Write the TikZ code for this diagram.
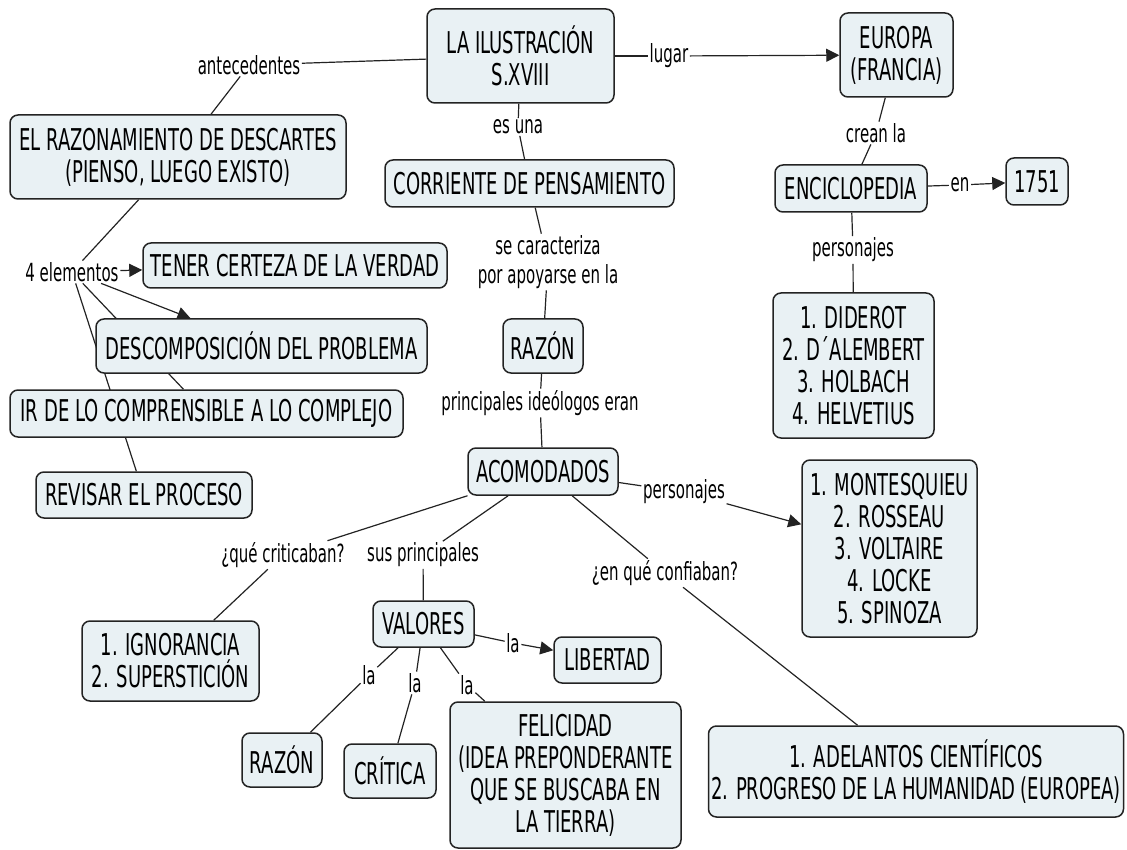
\documentclass[tikz,border=0pt]{standalone}
\usepackage{fontspec}
\setmainfont{DejaVu Sans}[FakeStretch=0.6]
\usepackage{tikz}
\usetikzlibrary{arrows.meta}
\usetikzlibrary{backgrounds}

\definecolor{relleno}{RGB}{233,241,244}
\definecolor{borde}{RGB}{35,35,35}

\tikzset{
  concepto/.style={draw=borde, line width=1.5pt, fill=relleno, rounded corners=8pt,
    align=center, inner sep=0pt, font=\fontsize{30}{32}\selectfont},
  enlace/.style={inner sep=1.5pt, align=center, font=\fontsize{25}{29}\selectfont},
  linea/.style={draw=borde, line width=1.2pt},
  flecha/.style={linea, -{Triangle[length=13pt,width=13pt]}},
}

\begin{document}
\begin{tikzpicture}[x=1pt,y=-1pt]
	\useasboundingbox (0,0) rectangle (1127,850);

	\node[concepto, minimum width=187pt, minimum height=94pt] (ilus) at (520.5,56) {LA ILUSTRACIÓN\\S.XVIII};
	\node[concepto, minimum width=336pt, minimum height=84pt] (razon) at (178,157) {EL RAZONAMIENTO DE DESCARTES\\(PIENSO, LUEGO EXISTO)};
	\node[concepto, minimum width=113pt, minimum height=84pt] (europa) at (896.5,55) {EUROPA\\(FRANCIA)};
	\node[concepto, minimum width=289pt, minimum height=47pt] (corriente) at (529.5,183.5) {CORRIENTE DE PENSAMIENTO};
	\node[concepto, minimum width=152pt, minimum height=47pt] (enciclo) at (851,188.5) {ENCICLOPEDIA};
	\node[concepto, minimum width=62pt, minimum height=47pt] (anio) at (1037,181.5) {1751};
	\node[concepto, minimum width=161pt, minimum height=145pt] (diderot) at (853.5,365.5) {1. DIDEROT\\2. D´ALEMBERT\\3. HOLBACH\\4. HELVETIUS};
	\node[concepto, minimum width=304pt, minimum height=45pt] (tener) at (295,265.5) {TENER CERTEZA DE LA VERDAD};
	\node[concepto, minimum width=331pt, minimum height=54pt] (descomp) at (261.5,346) {DESCOMPOSICIÓN DEL PROBLEMA};
	\node[concepto, minimum width=80pt, minimum height=54pt] (razonA) at (543,346) {RAZÓN};
	\node[concepto, minimum width=393pt, minimum height=47pt] (ir) at (206.5,413.5) {IR DE LO COMPRENSIBLE A LO COMPLEJO};
	\node[concepto, minimum width=150pt, minimum height=47pt] (acomod) at (543,471.5) {ACOMODADOS};
	\node[concepto, minimum width=216pt, minimum height=46pt] (revisar) at (144,495) {REVISAR EL PROCESO};
	\node[concepto, minimum width=175pt, minimum height=177pt] (montes) at (889.5,548.5) {1. MONTESQUIEU\\2. ROSSEAU\\3. VOLTAIRE\\4. LOCKE\\5. SPINOZA};
	\node[concepto, minimum width=101pt, minimum height=46pt] (valores) at (423.5,624) {VALORES};
	\node[concepto, minimum width=177pt, minimum height=80pt] (ignor) at (170.5,661) {1. IGNORANCIA\\2. SUPERSTICIÓN};
	\node[concepto, minimum width=107pt, minimum height=46pt] (libertad) at (607.5,660) {LIBERTAD};
	\node[concepto, minimum width=80pt, minimum height=54pt] (razonB) at (282,760) {RAZÓN};
	\node[concepto, minimum width=92pt, minimum height=54pt] (critica) at (390,771) {CRÍTICA};
	\node[concepto, minimum width=231pt, minimum height=146pt] (felicidad) at (565.5,775) {FELICIDAD\\(IDEA PREPONDERANTE\\QUE SE BUSCABA EN\\LA TIERRA)};
	\node[concepto, minimum width=415pt, minimum height=91pt] (adelantos) at (916,771.5) {1. ADELANTOS CIENTÍFICOS\\2. PROGRESO DE LA HUMANIDAD (EUROPEA)};

	\node[enlace] (antec) at (249,65) {antecedentes};
	\node[enlace] (lugar) at (669,56) {lugar};
	\node[enlace] (esuna) at (518,127) {es una};
	\node[enlace] (crean) at (876,133) {crean la};
	\node[enlace] (en) at (960,185) {en};
	\node[enlace] (persA) at (853,250) {personajes};
	\node[enlace] (elem) at (72,272) {4 elementos};
	\node[enlace] (secar) at (548,262) {se caracteriza\\por apoyarse en la};
	\node[enlace] (ideol) at (540,403) {principales ideólogos eran};
	\node[enlace] (persB) at (684,492) {personajes};
	\node[enlace] (critic) at (283,555) {¿qué criticaban?};
	\node[enlace] (susp) at (423,555) {sus principales};
	\node[enlace] (confi) at (665,573) {¿en qué confiaban?};
	\node[enlace] (laA) at (513,643) {la};
	\node[enlace] (laB) at (369,675) {la};
	\node[enlace] (laC) at (415,683) {la};
	\node[enlace] (laD) at (467,685) {la};

	\begin{scope}[on background layer]
	\draw[linea] (ilus) -- (antec) (antec) -- (razon);
	\draw[linea] (ilus) -- (lugar);
	\draw[flecha] (lugar) -- (europa);
	\draw[linea] (ilus) -- (esuna) (esuna) -- (corriente);
	\draw[linea] (europa) -- (crean) (crean) -- (enciclo);
	\draw[linea] (enciclo) -- (en);
	\draw[flecha] (en) -- (anio);
	\draw[linea] (enciclo) -- (persA) (persA) -- (diderot);
	\draw[linea] (razon) -- (elem);
	\draw[flecha] (elem) -- (tener);
	\draw[flecha] (elem) -- (descomp);
	\draw[linea] (elem) -- (ir);
	\draw[linea] (elem) -- (revisar);
	\draw[linea] (corriente) -- (secar) (secar) -- (razonA);
	\draw[linea] (razonA) -- (ideol) (ideol) -- (acomod);
	\draw[linea] (acomod) -- (persB);
	\draw[flecha] (persB) -- (montes);
	\draw[linea] (acomod) -- (critic) (critic) -- (ignor);
	\draw[linea] (acomod) -- (susp) (susp) -- (valores);
	\draw[linea] (acomod) -- (confi) (confi) -- (adelantos);
	\draw[linea] (valores) -- (laA);
	\draw[flecha] (laA) -- (libertad);
	\draw[linea] (valores) -- (laB) (laB) -- (razonB);
	\draw[linea] (valores) -- (laC) (laC) -- (critica);
	\draw[linea] (valores) -- (laD) (laD) -- (felicidad);
	\end{scope}
\end{tikzpicture}
\end{document}
